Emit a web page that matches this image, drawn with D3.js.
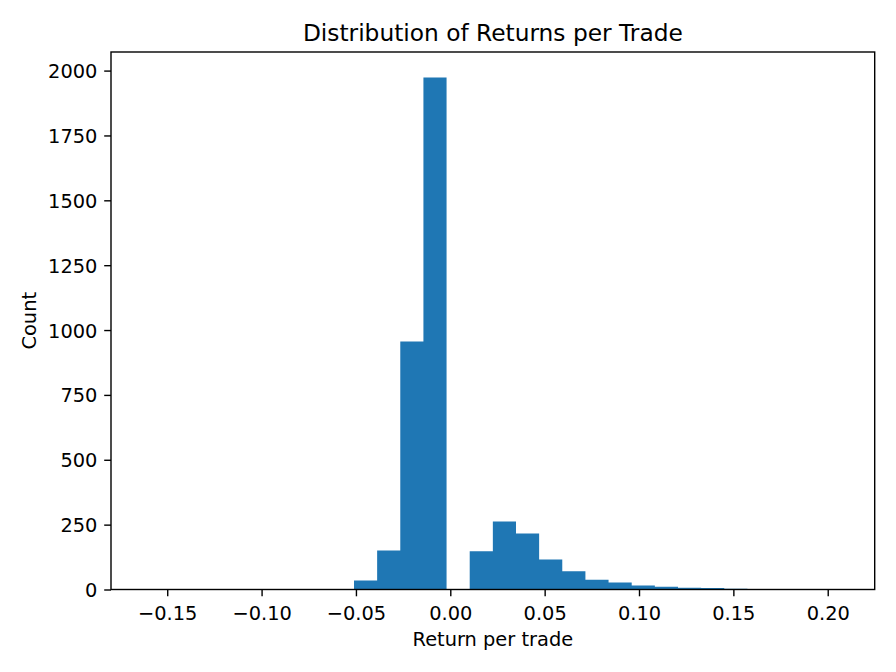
<!DOCTYPE html>
<html>
<head>
<meta charset="utf-8">
<script src="https://cdn.jsdelivr.net/npm/d3@7"></script>
<style>
  html, body { margin: 0; padding: 0; background: #fff; }
  svg { display: block; }
  text { font-family: "DejaVu Sans", sans-serif; fill: #000; }
</style>
</head>
<body>
<svg id="chart" width="896" height="672"></svg>
<script>
// ---- data ----
const returnMin = -0.1614;    // lowest return (left edge of first bin)
const returnMax = 0.2065;     // highest return (right edge of last bin)
const binCounts = [1, 0, 0, 0, 0, 0, 0, 0, 2, 35,
                   150, 956, 1973, 0, 147, 262, 216, 116, 70, 38,
                   27, 15, 11, 7, 6, 3, 2, 1, 0, 1];
const xTicks = [-0.15, -0.10, -0.05, 0.00, 0.05, 0.10, 0.15, 0.20];
const yTicks = [0, 250, 500, 750, 1000, 1250, 1500, 1750, 2000];
const titleText = "Distribution of Returns per Trade";
const xLabelText = "Return per trade";
const yLabelText = "Count";

(function () {
// ---- layout ----
const mLeft = 111, mRight = 874.7, mTop = 52, mBottom = 589.5;
const svg = d3.select("#chart");

const nBins = binCounts.length;
const binW = (returnMax - returnMin) / nBins;
const bins = binCounts.map((c, i) => ({x0: returnMin + i * binW, x1: returnMin + (i + 1) * binW, count: c}));

const span = returnMax - returnMin;
const x = d3.scaleLinear()
  .domain([returnMin - 0.05 * span, returnMax + 0.05 * span])
  .range([mLeft, mRight]);
const yMax = d3.max(binCounts);
const y = d3.scaleLinear()
  .domain([0, yMax * 1.05])
  .range([mBottom, mTop]);

// bars (single path so adjacent bars have no seams)
const barPath = d3.path();
bins.filter(d => d.count > 0).forEach(d => {
  barPath.rect(x(d.x0), y(d.count), x(d.x1) - x(d.x0), y(0) - y(d.count));
});
svg.append("path")
  .attr("d", barPath.toString())
  .attr("fill", "#1f77b4")
  .attr("fill-rule", "nonzero");

const fmtX = v => (v < 0 ? "\u2212" : "") + d3.format(".2f")(Math.abs(v));
const fontPx = "19.4px";
const tickLen = 6.8;

// x axis
const xAxis = svg.append("g")
  .attr("transform", `translate(0,${mBottom})`)
  .call(d3.axisBottom(x).tickValues(xTicks).tickFormat(fmtX).tickSize(tickLen).tickPadding(0));
xAxis.select(".domain").remove();
xAxis.selectAll(".tick line").attr("stroke", "#000").attr("stroke-width", 1.4);
xAxis.selectAll(".tick text")
  .attr("font-size", fontPx).attr("font-family", "DejaVu Sans, sans-serif")
  .attr("y", 30).attr("dy", null);

// y axis
const yAxis = svg.append("g")
  .attr("transform", `translate(${mLeft},0)`)
  .call(d3.axisLeft(y).tickValues(yTicks).tickFormat(d3.format("d")).tickSize(tickLen).tickPadding(6.8));
yAxis.select(".domain").remove();
yAxis.selectAll(".tick line").attr("stroke", "#000").attr("stroke-width", 1.4);
yAxis.selectAll(".tick text")
  .attr("font-size", fontPx).attr("font-family", "DejaVu Sans, sans-serif")
  .attr("dy", "0.36em");

// frame
svg.append("rect")
  .attr("x", mLeft).attr("y", mTop)
  .attr("width", mRight - mLeft).attr("height", mBottom - mTop)
  .attr("fill", "none").attr("stroke", "#000").attr("stroke-width", 1.4);

// title & labels
svg.append("text")
  .attr("x", (mLeft + mRight) / 2).attr("y", 41)
  .attr("text-anchor", "middle").attr("font-size", "23.3px")
  .text(titleText);
svg.append("text")
  .attr("x", (mLeft + mRight) / 2).attr("y", 646)
  .attr("text-anchor", "middle").attr("font-size", fontPx)
  .text(xLabelText);
svg.append("text")
  .attr("transform", `translate(36,${(mTop + mBottom) / 2}) rotate(-90)`)
  .attr("text-anchor", "middle").attr("font-size", fontPx)
  .text(yLabelText);
})();
</script>
</body>
</html>
